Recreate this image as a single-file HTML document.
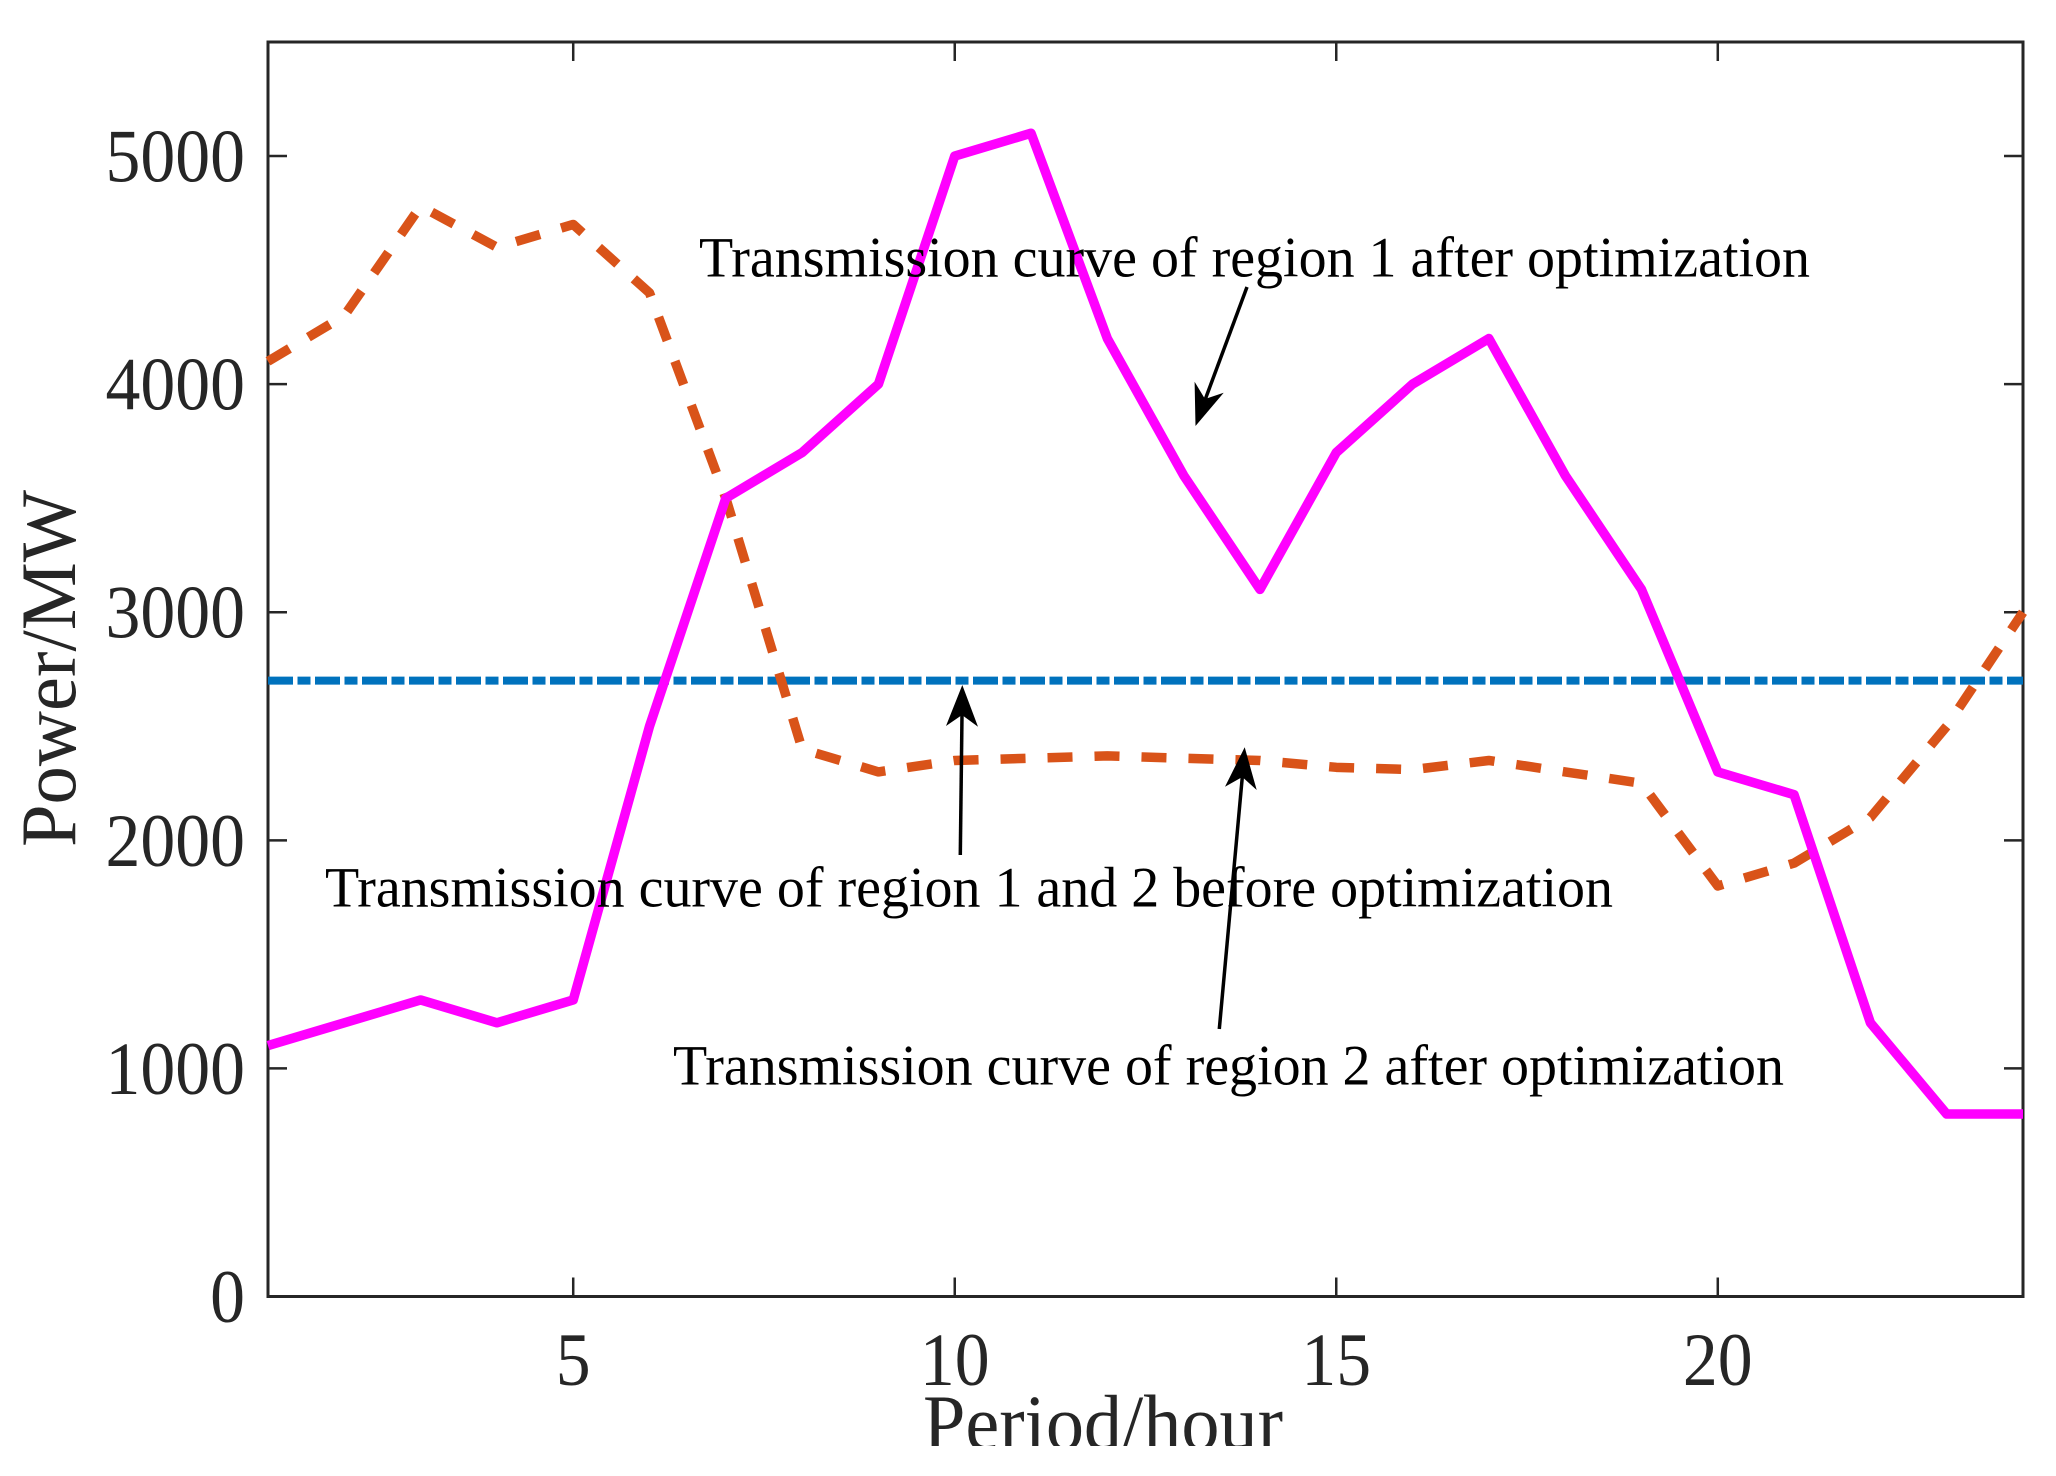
<!DOCTYPE html>
<html lang="en">
<head>
<meta charset="utf-8">
<title>Transmission curves before and after optimization</title>
<style>
  html, body { margin: 0; padding: 0; background: #ffffff; }
  svg { display: block; font-family: "Liberation Serif", "Times New Roman", serif; }
</style>
</head>
<body>
<svg id="chart" xmlns="http://www.w3.org/2000/svg" width="2056" height="1476" viewBox="0 0 2056 1476">
  <defs>
    <clipPath id="xlabel-clip"><rect x="800" y="1380" width="700" height="66"/></clipPath>
  </defs>
  <rect x="0" y="0" width="2056" height="1476" fill="#ffffff"/>
  <g id="axes-layer"></g>
  <g id="series-layer"></g>

  <text transform="translate(75,847) rotate(-90)" font-size="78" fill="#262626" textLength="357" lengthAdjust="spacingAndGlyphs">Power/MW</text>
  <g clip-path="url(#xlabel-clip)">
    <text x="923" y="1449" font-size="78" fill="#262626" textLength="360" lengthAdjust="spacingAndGlyphs">Period/hour</text>
  </g>

  <text x="699" y="276.5" font-size="57" fill="#000000" textLength="1111" lengthAdjust="spacingAndGlyphs">Transmission curve of region 1 after optimization</text>
  <text x="325" y="906.5" font-size="57" fill="#000000" textLength="1288" lengthAdjust="spacingAndGlyphs">Transmission curve of region 1 and 2 before optimization</text>
  <text x="673" y="1084.5" font-size="57" fill="#000000" textLength="1111" lengthAdjust="spacingAndGlyphs">Transmission curve of region 2 after optimization</text>

  <g>
    <line x1="1247" y1="287" x2="1205" y2="400" stroke="#000000" stroke-width="3.5"/>
    <polygon points="1195.5,426 1194.6,381.7 1205,399 1223.7,392.7" fill="#000000"/>
  </g>
  <g>
    <line x1="960.3" y1="855" x2="962" y2="715" stroke="#000000" stroke-width="3.5"/>
    <polygon points="962.3,685 946,726 962,715 978,726.7" fill="#000000"/>
  </g>
  <g>
    <line x1="1219.3" y1="1029" x2="1242.3" y2="777" stroke="#000000" stroke-width="3.5"/>
    <polygon points="1244.7,747.3 1225,786.7 1242.3,777 1256.7,790" fill="#000000"/>
  </g>
</svg>

<script>
const hours = [1,2,3,4,5,6,7,8,9,10,11,12,13,14,15,16,17,18,19,20,21,22,23,24];
const region1After = [1100,1200,1300,1200,1300,2500,3500,3700,4000,5000,5100,4200,3600,3100,3700,4000,4200,3600,3100,2300,2200,1200,800,800];
const region2After = [4100,4300,4780,4600,4700,4400,3500,2400,2300,2350,2360,2370,2360,2350,2320,2310,2350,2300,2250,1800,1900,2100,2500,3000];
const beforeOptimization = [2700,2700,2700,2700,2700,2700,2700,2700,2700,2700,2700,2700,2700,2700,2700,2700,2700,2700,2700,2700,2700,2700,2700,2700];
const xTicks = [5,10,15,20];
const yTicks = [0,1000,2000,3000,4000,5000];

const plotLeft = 268, plotRight = 2023, plotTop = 42, plotBottom = 1296.5;
const xMin = 1, xMax = 24, yMin = 0, yMax = 5500;
const tickLength = 19, axisColor = '#262626';
const SVG_NS = 'http://www.w3.org/2000/svg';

function xScale(v) { return plotLeft + (v - xMin) / (xMax - xMin) * (plotRight - plotLeft); }
function yScale(v) { return plotBottom - (v - yMin) / (yMax - yMin) * (plotBottom - plotTop); }
function make(tag) { return document.createElementNS(SVG_NS, tag); }

const axesLayer = document.getElementById('axes-layer');
const seriesLayer = document.getElementById('series-layer');

const frame = make('rect');


frame.setAttribute('x', plotLeft);
frame.setAttribute('y', plotTop);
frame.setAttribute('width', plotRight - plotLeft);
frame.setAttribute('height', plotBottom - plotTop);
frame.setAttribute('fill', 'none');
frame.setAttribute('stroke', axisColor);
frame.setAttribute('stroke-width', '3');
axesLayer.appendChild(frame);

function tickLine(x1, y1, x2, y2, name) {
  const l = make('line');
  
  
  l.setAttribute('x1', x1);
  l.setAttribute('y1', y1);
  l.setAttribute('x2', x2);
  l.setAttribute('y2', y2);
  l.setAttribute('stroke', axisColor);
  l.setAttribute('stroke-width', '2.5');
  axesLayer.appendChild(l);
}

function tickLabel(x, y, str, anchor, name) {
  const t = make('text');
  
  
  t.setAttribute('transform', 'translate(' + x + ',' + y + ') scale(0.93,1)');
  t.setAttribute('text-anchor', anchor);
  t.setAttribute('font-size', '75');
  t.setAttribute('fill', axisColor);
  t.textContent = str;
  axesLayer.appendChild(t);
}

xTicks.forEach(function (v) {
  const x = xScale(v);
  tickLine(x, plotBottom, x, plotBottom - tickLength, 'x-tick-bottom-' + v);
  tickLine(x, plotTop, x, plotTop + tickLength, 'x-tick-top-' + v);
  tickLabel(x, 1385, String(v), 'middle', 'x-tick-label-' + v);
});

yTicks.forEach(function (v) {
  const y = yScale(v);
  tickLine(plotLeft, y, plotLeft + tickLength, y, 'y-tick-left-' + v);
  tickLine(plotRight, y, plotRight - tickLength, y, 'y-tick-right-' + v);
  tickLabel(245, y + 25.5, String(v), 'end', 'y-tick-label-' + v);
});

function seriesPoints(values) {
  return values.map(function (v, i) { return xScale(hours[i]) + ',' + yScale(v); }).join(' ');
}

const lineBefore = make('polyline');


lineBefore.setAttribute('points', seriesPoints(beforeOptimization));
lineBefore.setAttribute('fill', 'none');
lineBefore.setAttribute('stroke', '#0072bd');
lineBefore.setAttribute('stroke-width', '8');
lineBefore.setAttribute('stroke-dasharray', '25 4.5 13 4.5');
seriesLayer.appendChild(lineBefore);

const lineRegion2 = make('polyline');


lineRegion2.setAttribute('points', seriesPoints(region2After));
lineRegion2.setAttribute('fill', 'none');
lineRegion2.setAttribute('stroke', '#d95319');
lineRegion2.setAttribute('stroke-width', '9.5');
lineRegion2.setAttribute('stroke-dasharray', '25 22');
lineRegion2.setAttribute('stroke-linejoin', 'round');
seriesLayer.appendChild(lineRegion2);

const lineRegion1 = make('polyline');


lineRegion1.setAttribute('points', seriesPoints(region1After));
lineRegion1.setAttribute('fill', 'none');
lineRegion1.setAttribute('stroke', '#ff00ff');
lineRegion1.setAttribute('stroke-width', '9.5');
lineRegion1.setAttribute('stroke-linejoin', 'round');
seriesLayer.appendChild(lineRegion1);
</script>
</body>
</html>
